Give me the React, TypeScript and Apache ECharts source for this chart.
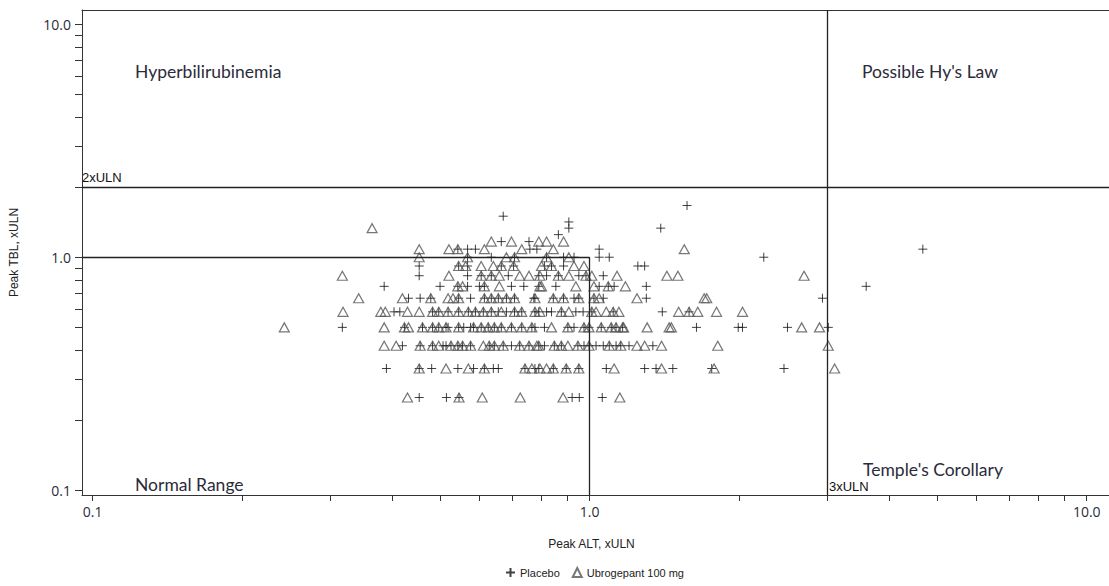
import React, { useEffect, useRef } from "react";
import * as echarts from "echarts";

// Axis ranges (log scales)
const X_MIN = 0.0952;
const X_MAX = 11.19;
const Y_MIN = 0.0954;
const Y_MAX = 11.51;

const tickValues = [
  0.1, 0.2, 0.3, 0.4, 0.5, 0.6, 0.7, 0.8, 0.9,
  1, 2, 3, 4, 5, 6, 7, 8, 9, 10,
];
const labelValues = [0.1, 1, 10];

// Reference thresholds
const TBL_2ULN = 2;
const ALT_3ULN = 3;
const NORMAL_ULN = 1;

const seriesNames = ["Placebo", "Ubrogepant 100 mg"];

// Placebo: [peak TBL, list of peak ALT]
const placeboRows: [number, number[]][] = [
  [1.667, [1.57]],
  [1.5, [0.67]],
  [1.417, [0.908]],
  [1.333, [0.908, 1.39]],
  [1.25, [0.865]],
  [1.167, [0.664, 0.755]],
  [1.083, [0.543, 0.568, 0.589, 0.758, 0.783, 1.045, 4.68]],
  [1.0, [0.568, 0.634, 0.706, 0.819, 0.886, 0.93, 1.045, 1.095, 2.24]],
  [0.917, [0.454, 0.545, 0.568, 0.664, 0.703, 0.811, 0.838, 0.886, 1.25, 1.29]],
  [0.833, [0.454, 0.568, 0.605, 0.634, 0.686, 0.79, 0.819, 0.865, 0.951, 0.983, 1.065]],
  [0.75, [0.386, 0.5, 0.543, 0.568, 0.6, 0.614, 0.696, 0.737, 0.79, 0.855, 1.045, 1.09, 1.12, 1.3, 3.6]],
  [0.667, [0.432, 0.456, 0.479, 0.545, 0.576, 0.614, 0.634, 0.655, 0.68, 0.706, 0.772, 0.776, 0.845, 0.886, 0.93, 0.951, 1.02, 1.065, 1.3, 2.94]],
  [0.583, [0.404, 0.415, 0.483, 0.497, 0.519, 0.545, 0.57, 0.589, 0.611, 0.634, 0.655, 0.68, 0.706, 0.73, 0.776, 0.79, 0.819, 0.838, 0.877, 0.938, 0.97, 1.01, 1.115, 1.4, 1.585]],
  [0.5, [0.318, 0.424, 0.461, 0.483, 0.497, 0.514, 0.519, 0.545, 0.558, 0.576, 0.584, 0.605, 0.625, 0.643, 0.664, 0.696, 0.73, 0.765, 0.776, 0.811, 0.904, 0.93, 0.974, 0.997, 1.055, 1.105, 1.13, 1.165, 1.64, 1.99, 2.03, 2.5, 3.02]],
  [0.417, [0.42, 0.456, 0.483, 0.507, 0.514, 0.526, 0.543, 0.555, 0.576, 0.628, 0.643, 0.67, 0.696, 0.723, 0.755, 0.79, 0.811, 0.849, 0.877, 0.947, 0.974, 0.997, 1.03, 1.065, 1.095, 1.13, 1.155, 1.2, 1.34]],
  [0.333, [0.39, 0.454, 0.481, 0.543, 0.584, 0.614, 0.64, 0.655, 0.741, 0.776, 0.79, 0.845, 0.897, 0.951, 1.08, 1.29, 1.36, 1.47, 1.76, 2.46]],
  [0.25, [0.454, 0.515, 0.546, 0.922, 0.953, 1.06]],
];

// Ubrogepant 100 mg: [peak TBL, list of peak ALT]
const ubroRows: [number, number[]][] = [
  [1.333, [0.365]],
  [1.167, [0.634, 0.696, 0.79, 0.819, 0.886]],
  [1.083, [0.454, 0.521, 0.543, 0.614, 0.73, 0.845, 1.55]],
  [1.0, [0.454, 0.568, 0.68, 0.706, 0.819, 0.908]],
  [0.917, [0.545, 0.563, 0.605, 0.64, 0.664, 0.703, 0.8, 0.838, 0.93, 0.974]],
  [0.833, [0.318, 0.521, 0.605, 0.634, 0.658, 0.723, 0.755, 0.794, 0.865, 0.908, 0.983, 1.01, 1.135, 1.43, 1.505, 2.7]],
  [0.75, [0.543, 0.555, 0.614, 0.658, 0.794, 0.8, 0.938, 1.02, 1.09, 1.18]],
  [0.667, [0.343, 0.42, 0.479, 0.519, 0.531, 0.545, 0.614, 0.634, 0.655, 0.68, 0.706, 0.776, 0.845, 0.886, 0.951, 1.02, 1.045, 1.245, 1.7, 1.72]],
  [0.583, [0.319, 0.38, 0.388, 0.43, 0.454, 0.483, 0.497, 0.519, 0.545, 0.57, 0.589, 0.611, 0.634, 0.664, 0.706, 0.73, 0.776, 0.794, 0.877, 0.908, 1.01, 1.03, 1.08, 1.115, 1.145, 1.51, 1.585, 1.65, 1.8, 2.03]],
  [0.5, [0.243, 0.386, 0.424, 0.432, 0.461, 0.483, 0.497, 0.514, 0.545, 0.584, 0.605, 0.625, 0.643, 0.664, 0.696, 0.73, 0.765, 0.838, 0.904, 0.974, 0.997, 1.055, 1.105, 1.13, 1.165, 1.17, 1.305, 1.445, 1.46, 2.67, 2.9]],
  [0.417, [0.386, 0.408, 0.456, 0.483, 0.497, 0.526, 0.543, 0.555, 0.576, 0.611, 0.628, 0.643, 0.67, 0.723, 0.755, 0.783, 0.79, 0.849, 0.877, 0.904, 0.947, 0.997, 1.095, 1.155, 1.245, 1.29, 1.395, 1.81, 3.02]],
  [0.333, [0.454, 0.514, 0.57, 0.614, 0.741, 0.765, 0.794, 0.819, 0.845, 0.897, 0.951, 1.12, 1.395, 1.78, 3.11]],
  [0.25, [0.43, 0.546, 0.608, 0.725, 0.884, 1.15]],
];

const toPoints = (rows: [number, number[]][]) =>
  rows.flatMap(([tbl, alts]) => alts.map((alt) => [alt, tbl]));

const AXIS_COLOR = "#333";
const LINE_COLOR = "#222";
const TEXT_COLOR = "#2b2b3a";

export default function App() {
  const ref = useRef<HTMLDivElement>(null);

  useEffect(() => {
    if (!ref.current) return;
    const chart = echarts.init(ref.current, undefined, { renderer: "svg" });

    const quadrantFont = {
      fontFamily: "Lato",
      fontSize: 17.5,
      fill: TEXT_COLOR,
      verticalAlign: "middle",
    };
    const smallFont = { fontFamily: "Liberation Sans", fontSize: 13, fill: "#111" };
    const tickLabelStyle = {
      fontFamily: "Open Sans",
      fontSize: 14,
      color: TEXT_COLOR,
    };
    const maskStyle = { fill: "#fff", stroke: "none", lineWidth: 0 };

    chart.setOption({
      animation: false,
      backgroundColor: "#fff",
      grid: {
        left: 80,
        top: 10,
        right: 9,
        bottom: 91,
        show: false,
      },
      legend: {
        data: seriesNames,
        left: 500,
        top: 562,
        itemWidth: 9,
        itemHeight: 9,
        itemGap: 12,
        textStyle: { fontFamily: "Liberation Sans", fontSize: 11, color: "#222" },
      },
      xAxis: [
        {
          type: "log",
          logBase: 10,
          min: X_MIN,
          max: X_MAX,
          name: "Peak ALT, xULN",
          nameLocation: "middle",
          nameGap: 43,
          nameTextStyle: { fontFamily: "Liberation Sans", fontSize: 12, color: "#222", padding: [0, 10, 0, 0] },
          axisLine: { show: true, lineStyle: { color: AXIS_COLOR, width: 1 } },
          axisTick: {
            show: true,
            length: 6,
            customValues: tickValues,
            lineStyle: { color: AXIS_COLOR },
          },
          axisLabel: {
            customValues: labelValues,
            formatter: (v: number) => Number(v).toFixed(1),
            ...tickLabelStyle,
            margin: 9,
          },
          splitLine: { show: false },
          minorTick: { show: false },
        },
        {
          type: "log",
          logBase: 10,
          min: X_MIN,
          max: X_MAX,
          position: "top",
          axisLine: { show: true, onZero: false, lineStyle: { color: AXIS_COLOR, width: 1 } },
          axisTick: { show: false },
          axisLabel: { show: false },
          splitLine: { show: false },
        },
      ],
      yAxis: {
        type: "log",
        logBase: 10,
        min: Y_MIN,
        max: Y_MAX,
        name: "Peak TBL, xULN",
        nameLocation: "middle",
        nameGap: 62,
        nameTextStyle: { fontFamily: "Liberation Sans", fontSize: 12, color: "#222" },
        axisLine: { show: true, lineStyle: { color: AXIS_COLOR, width: 1 } },
        axisTick: {
          show: true,
          length: 7,
          customValues: tickValues,
          lineStyle: { color: AXIS_COLOR },
        },
        axisLabel: {
          customValues: labelValues,
          formatter: (v: number) => Number(v).toFixed(1),
          ...tickLabelStyle,
          margin: 11,
        },
        splitLine: { show: false },
        minorTick: { show: false },
      },
      series: [
        {
          name: seriesNames[0],
          type: "scatter",
          data: toPoints(placeboRows),
          symbol: "path://M5,0L5,10M0,5L10,5",
          symbolSize: 9,
          itemStyle: { color: "rgba(0,0,0,0)", borderColor: "#111", borderWidth: 1 },
          markLine: {
            silent: true,
            symbol: ["none", "none"],
            label: { show: false },
            lineStyle: { color: LINE_COLOR, width: 1.3, type: "solid" },
            data: [
              { yAxis: TBL_2ULN },
              { xAxis: ALT_3ULN },
              [{ coord: [X_MIN, NORMAL_ULN] }, { coord: [NORMAL_ULN, NORMAL_ULN] }],
              [{ coord: [NORMAL_ULN, NORMAL_ULN] }, { coord: [NORMAL_ULN, Y_MIN] }],
            ],
          },
        },
        {
          name: seriesNames[1],
          type: "scatter",
          data: toPoints(ubroRows),
          symbol: "triangle",
          symbolSize: [10, 9],
          itemStyle: { color: "rgba(0,0,0,0)", borderColor: "#555", borderWidth: 1.2 },
        },
      ],
      graphic: [
        { type: "text", x: 135, y: 71, style: { ...quadrantFont, text: "Hyperbilirubinemia" } },
        { type: "text", x: 862, y: 71, style: { ...quadrantFont, text: "Possible Hy's Law" } },
        { type: "text", x: 135, y: 484, style: { ...quadrantFont, text: "Normal Range" } },
        { type: "text", x: 863, y: 469.5, style: { ...quadrantFont, text: "Temple's Corollary" } },
        { type: "text", left: 82, top: 171, style: { ...smallFont, text: "2xULN" } },
        { type: "text", left: 829, top: 480, style: { ...smallFont, text: "3xULN" } },
        {
          type: "rect",
          z: 100,
          silent: true,
          shape: { x: 1095, y: 12, width: 40, height: 173.5 },
          style: maskStyle,
        },
        {
          type: "rect",
          z: 100,
          silent: true,
          shape: { x: 1095, y: 189, width: 40, height: 304 },
          style: maskStyle,
        },
      ],
    });

    return () => chart.dispose();
  }, []);

  return (
    <div
      ref={ref}
      style={{ position: "fixed", left: 0, top: 0, width: 1120, height: 586, background: "#fff" }}
    />
  );
}
